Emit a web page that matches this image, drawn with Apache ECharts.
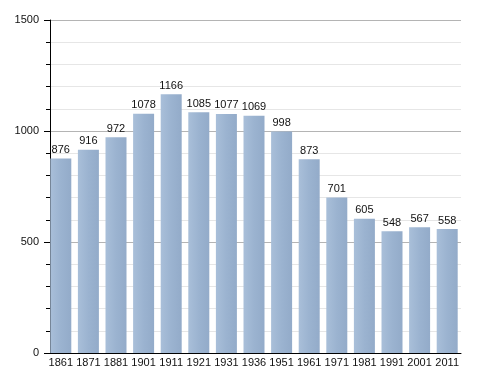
<!DOCTYPE html>
<html><head><meta charset="utf-8">
<script src="https://cdn.jsdelivr.net/npm/echarts@6/dist/echarts.min.js"></script>
<style>html,body{margin:0;padding:0;background:#fff}#c{width:488px;height:373px}</style>
</head><body><div id="c"></div>
<script>
const years = ['1861','1871','1881','1901','1911','1921','1931','1936','1951','1961','1971','1981','1991','2001','2011'];
const population = [876,916,972,1078,1166,1085,1077,1069,998,873,701,605,548,567,558];
const yTicks = [0,500,1000,1500];

const chart = echarts.init(document.getElementById('c'));
chart.setOption({
  animation: false,
  backgroundColor: '#fff',
  grid: {left: 47, right: 27, top: 20, bottom: 20},
  xAxis: {
    type: 'category', data: years, boundaryGap: true,
    axisLine: {lineStyle: {color: '#000', width: 1}},
    axisTick: {show: false},
    axisLabel: {interval: 0, color: '#111', fontSize: 11, fontFamily: 'Liberation Sans, Arial', margin: 4}
  },
  yAxis: {
    type: 'value', min: yTicks[0], max: yTicks[yTicks.length-1], interval: 500, offset: -3,
    axisLine: {show: true, lineStyle: {color: '#000', width: 1}},
    axisTick: {show: true, length: 6, lineStyle: {color: '#000'}},
    minorTick: {show: true, splitNumber: 5, length: 4, lineStyle: {color: '#000'}},
    splitLine: {show: true, lineStyle: {color: '#b4b4b4', width: 1}},
    minorSplitLine: {show: true, lineStyle: {color: '#e6e6e6', width: 1}},
    axisLabel: {formatter: v => String(v), color: '#111', fontSize: 11, fontFamily: 'Liberation Sans, Arial', margin: 11}
  },
  series: [{
    type: 'bar', data: population, barWidth: 21,
    itemStyle: {color: new echarts.graphic.LinearGradient(0,0,1,0,[
      {offset:0,color:'#a9bfd9'},{offset:0.5,color:'#9bb3d0'},{offset:1,color:'#93abc9'}])},
    label: {show: true, position: 'top', distance: 3, color: '#111', fontSize: 11, fontFamily: 'Liberation Sans, Arial'}
  }]
});
</script></body></html>
